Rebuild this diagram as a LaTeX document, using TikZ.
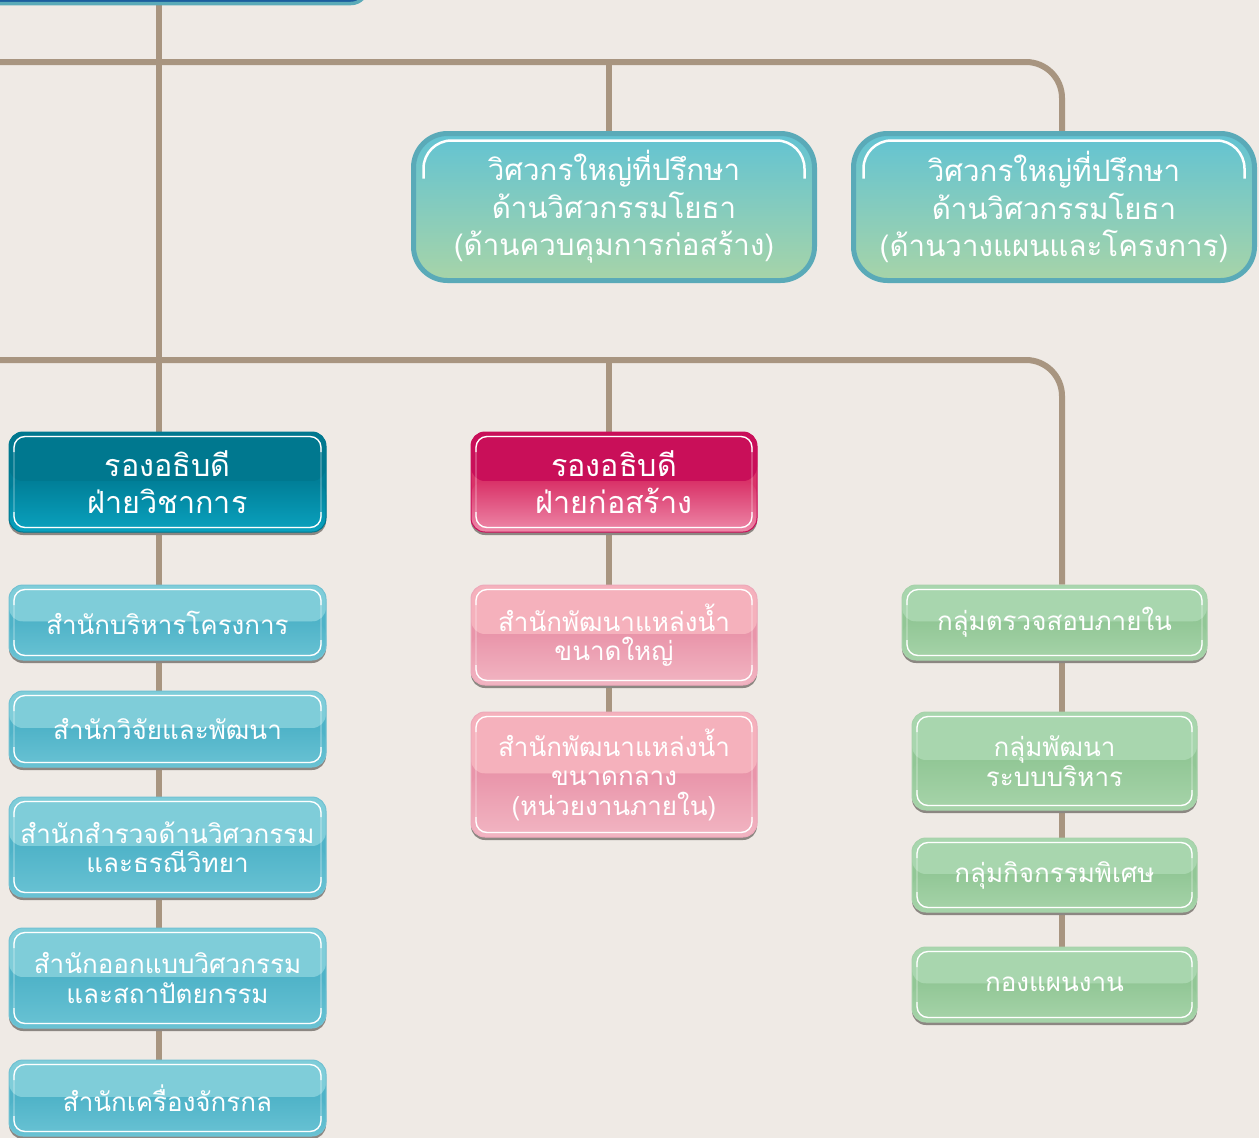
\documentclass[tikz,border=0pt]{standalone}
\usepackage{fontspec}
\newfontfamily\thaifont[Script=Thai]{Loma}
\usetikzlibrary{shadows,backgrounds}
\definecolor{bgc}{HTML}{EFEAE5}
\definecolor{conn}{HTML}{A89580}
\definecolor{advborder}{HTML}{5AAAB8}
\definecolor{advtop}{HTML}{62C3D3}
\definecolor{advbot}{HTML}{A7D4A8}
\definecolor{headblue}{HTML}{1B5E9E}
\definecolor{vaTop}{HTML}{00788F}
\definecolor{vaMid}{HTML}{017F98}
\definecolor{vaBot}{HTML}{0AA3C0}
\definecolor{vpTop}{HTML}{C90F59}
\definecolor{vpMid}{HTML}{D93268}
\definecolor{vpBot}{HTML}{EE8BAA}
\definecolor{ltTop}{HTML}{7FCDD9}
\definecolor{ltMid}{HTML}{4FB3C8}
\definecolor{ltBot}{HTML}{6AC3D4}
\definecolor{pkTop}{HTML}{F5B1BC}
\definecolor{pkMid}{HTML}{E995AA}
\definecolor{pkBot}{HTML}{F2B6C3}
\definecolor{gnTop}{HTML}{A8D6AE}
\definecolor{gnMid}{HTML}{92C796}
\definecolor{gnBot}{HTML}{A7D4AA}
\definecolor{shadowc}{HTML}{8C8782}
\tikzset{
  connline/.style={draw=conn, line width=6pt},
  gloss/.style n args={3}{
    fill=#2,
    path picture={
      \fill[#1] ([yshift=1pt]path picture bounding box.north west) rectangle ([yshift=1pt]path picture bounding box.east);
      \shade[top color=#2, bottom color=#3] ([yshift=1pt]path picture bounding box.west) rectangle ([yshift=-1pt]path picture bounding box.south east);
      \draw[white, opacity=0.35, line width=1.3pt, rounded corners=11pt]
        ([shift={(5pt,-4.5pt)}]path picture bounding box.north west) rectangle
        ([shift={(-5pt,4.5pt)}]path picture bounding box.south east);
      \draw[white, line width=1.3pt, rounded corners=11pt]
        ([shift={(5pt,-20pt)}]path picture bounding box.north west) |-
        ([shift={(-5pt,-4.5pt)}]path picture bounding box.north east) --
        ([shift={(-5pt,-20pt)}]path picture bounding box.north east);
      \draw[white, line width=1.3pt, rounded corners=11pt]
        ([shift={(5pt,20pt)}]path picture bounding box.south west) |-
        ([shift={(-5pt,4.5pt)}]path picture bounding box.south east) --
        ([shift={(-5pt,20pt)}]path picture bounding box.south east);
    }},
  orgbox/.style={rectangle, rounded corners=14pt, align=center, text=white,
    inner sep=0pt, drop shadow={shadow xshift=0pt, shadow yshift=-3pt, fill=shadowc, opacity=1}},
  vpbox/.style={orgbox, font=\thaifont\fontsize{30.5}{37}\selectfont},
  smallbox/.style={orgbox, font=\thaifont\fontsize{26}{29.5}\selectfont},
  tealbox/.style={smallbox, draw=ltMid!80!white, line width=1pt, gloss={ltTop}{ltMid}{ltBot},
    minimum width=317pt},
  pinkbox/.style={smallbox, draw=pkMid!80!white, line width=1pt, gloss={pkTop}{pkMid}{pkBot},
    minimum width=286pt},
  greenbox/.style={smallbox, draw=gnMid!80!white, line width=1pt, gloss={gnTop}{gnMid}{gnBot},
    minimum width=285pt},
  advbox/.style={rectangle, rounded corners=34pt, draw=advborder, line width=5pt,
    top color=advtop, bottom color=advbot, align=center, text=white,
    minimum width=401pt, minimum height=147pt, inner sep=0pt,
    font=\thaifont\fontsize{29.5}{37.5}\selectfont,
    path picture={
      \draw[white, line width=2.5pt, rounded corners=28pt]
        ([shift={(10pt,-45pt)}]path picture bounding box.north west) |-
        ([shift={(-10pt,-7pt)}]path picture bounding box.north east) --
        ([shift={(-10pt,-45pt)}]path picture bounding box.north east);
    }}
}
\begin{document}
\begin{tikzpicture}[x=1pt, y=-1pt]
\useasboundingbox (0,0) rectangle (1259,1138);
\begin{pgfonlayer}{background}
  \fill[bgc] (0,0) rectangle (1259,1138);
\end{pgfonlayer}

% top (cut) box
\node[rectangle, rounded corners=16pt, fill=headblue, draw=advborder, line width=3.5pt,
      minimum width=420pt, minimum height=50pt, inner sep=0pt] (head) at (157,-21.5) {};

% advisor boxes
\node[advbox] (A1) at (614,207) {วิศวกรใหญ่ที่ปรึกษา\\ด้านวิศวกรรมโยธา\\(ด้านควบคุมการก่อสร้าง)};
\node[advbox] (A2) at (1054,207) {วิศวกรใหญ่ที่ปรึกษา\\ด้านวิศวกรรมโยธา\\(ด้านวางแผนและโครงการ)};

% deputy directors
\node[vpbox, draw=vaTop, line width=1pt, gloss={vaTop}{vaMid}{vaBot},
      minimum width=317pt, minimum height=100pt] (V1) at (167.5,482) {รองอธิบดี\\ฝ่ายวิชาการ};
\node[vpbox, draw=vpTop, line width=1pt, gloss={vpTop}{vpMid}{vpBot},
      minimum width=286pt, minimum height=100pt] (V2) at (614,482) {รองอธิบดี\\ฝ่ายก่อสร้าง};

% left column
\node[tealbox, minimum height=75pt] (L1) at (167.5,622.5) {สำนักบริหารโครงการ};
\node[tealbox, minimum height=76pt] (L2) at (167.5,729) {สำนักวิจัยและพัฒนา};
\node[tealbox, minimum height=100pt] (L3) at (167.5,847) {สำนักสำรวจด้านวิศวกรรม\\และธรณีวิทยา};
\node[tealbox, minimum height=100pt] (L4) at (167.5,978) {สำนักออกแบบวิศวกรรม\\และสถาปัตยกรรม};
\node[tealbox, minimum height=76pt] (L5) at (167.5,1098) {สำนักเครื่องจักรกล};

% middle column
\node[pinkbox, minimum height=100pt] (P1) at (614,635) {สำนักพัฒนาแหล่งน้ำ\\ขนาดใหญ่};
\node[pinkbox, minimum height=125pt] (P2) at (614,774.5) {สำนักพัฒนาแหล่งน้ำ\\ขนาดกลาง\\(หน่วยงานภายใน)};

% right column
\node[greenbox, minimum width=305pt, minimum height=75pt] (G1) at (1054.5,622.5) {กลุ่มตรวจสอบภายใน};
\node[greenbox, minimum height=98pt] (G2) at (1054.5,761) {กลุ่มพัฒนา\\ระบบบริหาร};
\node[greenbox, minimum height=74pt] (G3) at (1054.5,875) {กลุ่มกิจกรรมพิเศษ};
\node[greenbox, minimum height=75pt] (G4) at (1054.5,984.5) {กองแผนงาน};

% connector guide coordinates
\coordinate (tx) at (159,0);
\coordinate (mx) at (609,0);
\coordinate (rx) at (1062,0);
\coordinate (e1) at (0,62);
\coordinate (e2) at (0,360);

\begin{pgfonlayer}{background}
  \draw[connline] (head.south -| tx) -- (L5.north -| tx);
  \draw[connline, rounded corners=36pt] (e1) -| (A2.north -| rx);
  \draw[connline] (mx |- e1) -- (A1.north -| mx);
  \draw[connline, rounded corners=36pt] (e2) -| (G1.north -| rx);
  \draw[connline] (mx |- e2) -- (P2.north -| mx);
  \draw[connline] (G1.south -| rx) -- (G4.north -| rx);
\end{pgfonlayer}
\end{tikzpicture}
\end{document}
